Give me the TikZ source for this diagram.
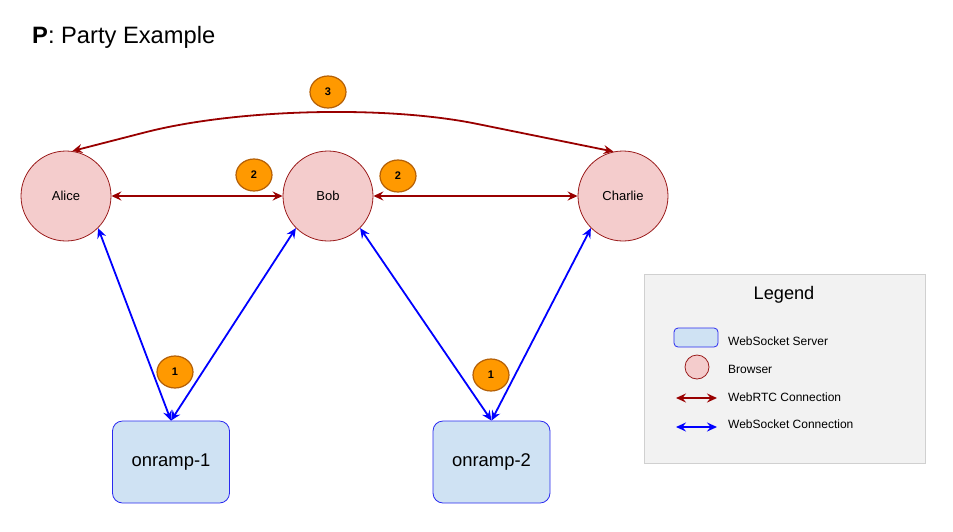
\documentclass[tikz,border=0pt]{standalone}
\usepackage{fontspec}
\setmainfont{Liberation Sans}
\usetikzlibrary{arrows.meta,shapes.geometric}

\definecolor{peerfill}{HTML}{F4CCCC}
\definecolor{peerline}{HTML}{9A1B1B}
\definecolor{rtc}{HTML}{990000}
\definecolor{ws}{HTML}{0000FF}
\definecolor{srvline}{HTML}{2A2AF0}
\definecolor{srvfill}{HTML}{CFE2F3}
\definecolor{badgefill}{HTML}{FF9900}
\definecolor{badgeline}{HTML}{B45F06}
\definecolor{legfill}{HTML}{F2F2F2}
\definecolor{legline}{HTML}{D0D0D0}

\tikzset{
  peer/.style={circle, draw=peerline, fill=peerfill, line width=0.8pt,
    minimum size=90pt, inner sep=0pt, font=\fontsize{13}{15}\selectfont},
  server/.style={rectangle, rounded corners=10pt, draw=srvline, fill=srvfill,
    line width=0.8pt, minimum width=117pt, minimum height=82pt,
    font=\fontsize{18.4}{22}\selectfont},
  badge/.style={ellipse, draw=badgeline, fill=badgefill, line width=1.2pt,
    minimum width=36pt, minimum height=32pt, inner sep=0pt,
    font=\bfseries\fontsize{11}{13}\selectfont},
  linktip/.tip={Stealth[length=10pt,width=9pt,inset=3.5pt]},
  rtclink/.style={draw=rtc, line width=1.8pt, {linktip}-{linktip}},
  wslink/.style={draw=ws, line width=1.8pt, {linktip}-{linktip}},
  legtext/.style={anchor=west, inner sep=0pt, font=\fontsize{12}{14}\selectfont},
}

\begin{document}
\begin{tikzpicture}[x=1pt,y=-1pt]
  \path[use as bounding box] (0,0) rectangle (953,531);

  % title
  \node[anchor=base west, inner sep=0pt, font=\fontsize{23.7}{28}\selectfont]
    (title) at (32,43) {\textbf{P}: Party Example};

  % browsers
  \node[peer] (alice)   at (66,196)  {Alice};
  \node[peer] (bob)     at (328,196) {Bob};
  \node[peer] (charlie) at (623,196) {Charlie};

  % websocket servers
  \node[server] (ramp1) at (171,462)   {onramp-1};
  \node[server] (ramp2) at (491.5,462) {onramp-2};

  % WebRTC connections
  \coordinate (arcpeak) at (310,90);
  \draw[rtclink] (alice.east) -- (bob.west);
  \draw[rtclink] (bob.east) -- (charlie.west);
  \draw[rtclink, rounded corners=170pt] (alice.82) -- (arcpeak) -- (charlie.102);

  % WebSocket connections
  \draw[wslink] (alice.-45) -- (ramp1.north);
  \draw[wslink] (bob.225) -- (ramp1.north);
  \draw[wslink] (bob.-45) -- (ramp2.north);
  \draw[wslink] (charlie.225) -- (ramp2.north);

  % step badges
  \node[badge] (b3)  at (328,92)  {3};
  \node[badge] (b2a) at (254,175) {2};
  \node[badge] (b2b) at (398,176) {2};
  \node[badge] (b1a) at (175,372) {1};
  \node[badge] (b1b) at (491,375) {1};

  % legend
  \node[rectangle, draw=legline, fill=legfill, line width=1pt,
    minimum width=281pt, minimum height=189pt] (legend) at (784.5,368.5) {};
  \node[font=\fontsize{18.2}{22}\selectfont] (legtitle) at (784,295) {Legend};

  \node[rectangle, rounded corners=4pt, draw=srvline, fill=srvfill, line width=0.8pt,
    minimum width=44pt, minimum height=19pt, inner sep=0pt] (legsrv) at (696,337.5) {};
  \node[circle, draw=peerline, fill=peerfill, line width=0.8pt,
    minimum size=24pt, inner sep=0pt] (legpeer) at (697,367) {};
  \coordinate (rtcA) at (676,398);
  \coordinate (rtcB) at (717,398);
  \coordinate (wsA) at (676,427);
  \coordinate (wsB) at (717,427);
  \draw[rtclink] (rtcA) -- (rtcB);
  \draw[wslink] (wsA) -- (wsB);

  \node[legtext] (lt1) at (728,341) {WebSocket Server};
  \node[legtext] (lt2) at (728,369) {Browser};
  \node[legtext] (lt3) at (728,397) {WebRTC Connection};
  \node[legtext] (lt4) at (728,424) {WebSocket Connection};
\end{tikzpicture}
\end{document}
